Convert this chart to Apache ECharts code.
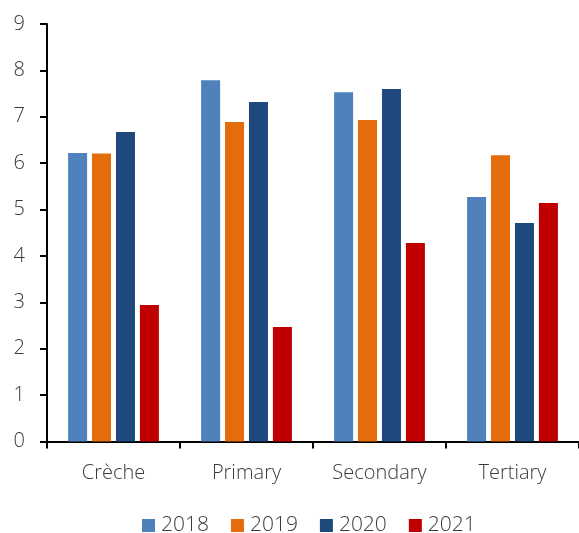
<!DOCTYPE html>
<html>
<head>
<meta charset="utf-8">
<script src="https://cdn.jsdelivr.net/npm/echarts@6/dist/echarts.min.js"></script>
<style>
  html, body { margin: 0; padding: 0; background: #fff; }
  #chart { width: 579px; height: 533px; }
</style>
</head>
<body>
<div id="chart"></div>
<script>
// Education levels and yearly values
const categories = ['Crèche', 'Primary', 'Secondary', 'Tertiary'];
const years = ['2018', '2019', '2020', '2021'];
const values2018 = [6.22, 7.79, 7.53, 5.27];
const values2019 = [6.21, 6.89, 6.93, 6.17];
const values2020 = [6.67, 7.32, 7.60, 4.71];
const values2021 = [2.94, 2.47, 4.28, 5.14];
const yTicks = [0, 1, 2, 3, 4, 5, 6, 7, 8, 9];

const colors = ['#4F81BD', '#E46C0A', '#1F497D', '#C00000'];
const seriesValues = [values2018, values2019, values2020, values2021];
const FONT = '"Open Sans", sans-serif';
const TEXT = '#3a3a3a';

const chart = echarts.init(document.getElementById('chart'), null, { renderer: 'canvas' });

chart.setOption({
  animation: false,
  color: colors,
  grid: { left: 47, right: 0, top: 24, bottom: 91.5, containLabel: false },
  legend: {
    data: years,
    top: 510,
    left: 137,
    itemWidth: 13,
    itemHeight: 13,
    itemGap: 22,
    icon: 'rect',
    textStyle: { fontFamily: FONT, fontWeight: 300, fontSize: 21, color: TEXT, padding: [0, 0, 0, 1] }
  },
  xAxis: {
    type: 'category',
    data: categories,
    axisLine: { lineStyle: { color: '#000', width: 2 } },
    axisTick: { show: true, length: 7, lineStyle: { color: '#000', width: 2 } },
    axisLabel: { fontFamily: FONT, fontWeight: 300, fontSize: 20, color: TEXT, margin: 22 },
    splitLine: { show: false }
  },
  yAxis: {
    type: 'value',
    min: yTicks[0],
    max: yTicks[yTicks.length - 1],
    interval: 1,
    axisLine: { show: true, lineStyle: { color: '#000', width: 2 } },
    axisTick: { show: true, length: 7, lineStyle: { color: '#000', width: 2 } },
    axisLabel: { fontFamily: FONT, fontWeight: 300, fontSize: 20, color: TEXT, margin: 22 },
    splitLine: { show: false }
  },
  series: years.map((y, i) => ({
    name: y,
    type: 'bar',
    data: seriesValues[i],
    barWidth: 19,
    barGap: '26%',
    itemStyle: { color: colors[i] }
  }))
});
</script>
</body>
</html>
